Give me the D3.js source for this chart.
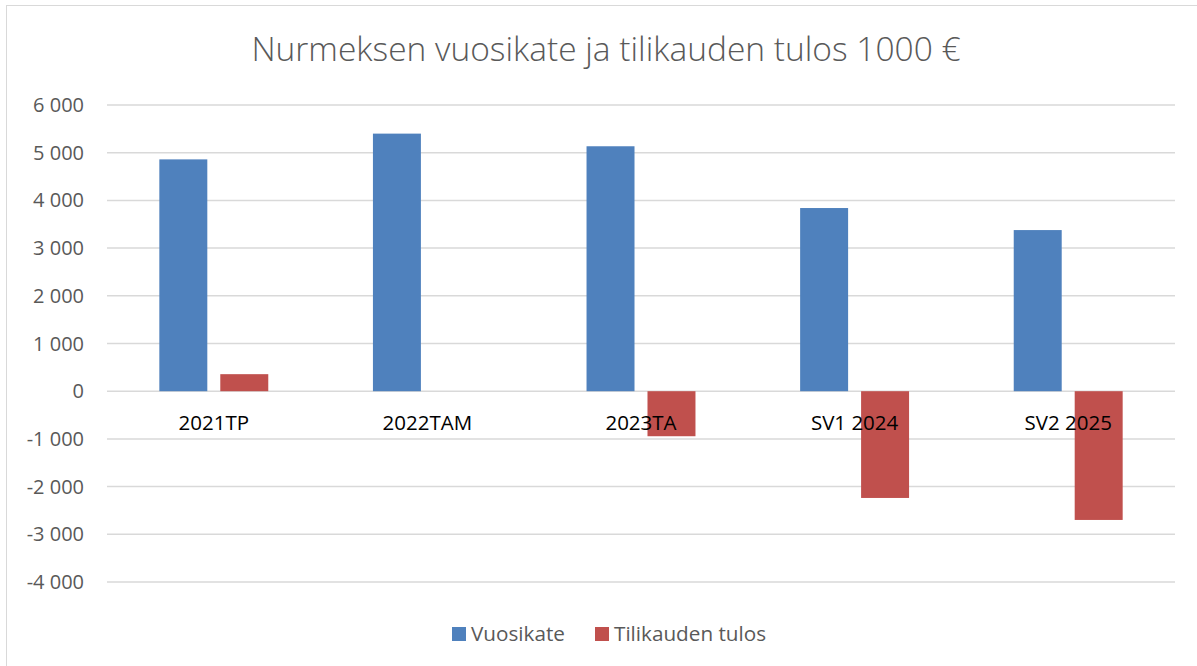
<!DOCTYPE html>
<html><head><meta charset="utf-8">
<script src="https://cdn.jsdelivr.net/npm/d3@7"></script>
<style>body{margin:0;background:#fff}svg{display:block}</style>
</head><body>
<svg id="c" width="1197" height="666"></svg>
<script>
const categories = ["2021TP","2022TAM","2023TA","SV1 2024","SV2 2025"];
const seriesNames = ["Vuosikate","Tilikauden tulos"];
const vuosikate = [4860, 5400, 5135, 3840, 3378];
const tilikaudenTulos = [357, 0, -944, -2238, -2699];
const yTicks = [-4000,-3000,-2000,-1000,0,1000,2000,3000,4000,5000,6000];
const title = "Nurmeksen vuosikate ja tilikauden tulos 1000 €";
const colors = ["#4F81BD","#C0504D"];

const svg = d3.select("#c");
const font = "'Open Sans', sans-serif";
svg.append("rect").attr("x",6.5).attr("y",5.5).attr("width",1240).attr("height",700)
  .attr("fill","#fff").attr("stroke","#d9d9d9").attr("stroke-width",1);

const x0 = d3.scaleBand().domain(categories).range([107,1175]).paddingInner(0.49).paddingOuter(0.245);
const x1 = d3.scaleBand().domain(seriesNames).range([0,x0.bandwidth()]).paddingInner(0.213);
const y = d3.scaleLinear().domain([-4000,6000]).range([582,105]);

// gridlines
svg.append("g").selectAll("line").data(yTicks).join("line")
  .attr("x1",107).attr("x2",1175).attr("y1",d=>y(d)).attr("y2",d=>y(d))
  .attr("stroke","#d9d9d9").attr("stroke-width",1.5);

// y axis labels
const fmt = v => { const s = d3.format(",")(Math.abs(v)).replace(/,/g," "); return (v<0?"-":"")+s; };
svg.append("g").selectAll("text").data(yTicks).join("text")
  .attr("x",84).attr("y",d=>y(d)).attr("dy","0.35em").attr("text-anchor","end")
  .attr("font-family",font).attr("font-size",20).attr("fill","#595959").text(fmt);

const data = categories.map((c,i)=>({c, vals:[vuosikate[i], tilikaudenTulos[i]]}));
const g = svg.append("g").selectAll("g").data(data).join("g")
  .attr("transform",d=>`translate(${x0(d.c)},0)`);
g.selectAll("rect").data(d=>d.vals.map((v,j)=>({v, s:seriesNames[j], j})))
  .join("rect")
  .attr("x",d=>x1(d.s)).attr("width",x1.bandwidth())
  .attr("y",d=>y(Math.max(0,d.v))).attr("height",d=>Math.abs(y(d.v)-y(0)))
  .attr("fill",d=>colors[d.j]);

// category labels
svg.append("g").selectAll("text").data(categories).join("text")
  .attr("x",d=>x0(d)+x0.bandwidth()/2).attr("y",430).attr("text-anchor","middle")
  .attr("font-family",font).attr("font-size",20.5).attr("fill","#000").text(d=>d);

// title
svg.append("text").attr("x",606).attr("y",61).attr("text-anchor","middle")
  .attr("font-family",font).attr("font-weight",300).attr("font-size",33.5).attr("fill","#595959").text(title);

// legend
const legX = [452, 595];
seriesNames.forEach((s,i)=>{
  svg.append("rect").attr("x",legX[i]).attr("y",627).attr("width",14).attr("height",14).attr("fill",colors[i]);
  svg.append("text").attr("x",legX[i]+19).attr("y",641).attr("font-family",font).attr("font-size",20.7)
    .attr("fill","#595959").text(s);
});
</script>
</body></html>
